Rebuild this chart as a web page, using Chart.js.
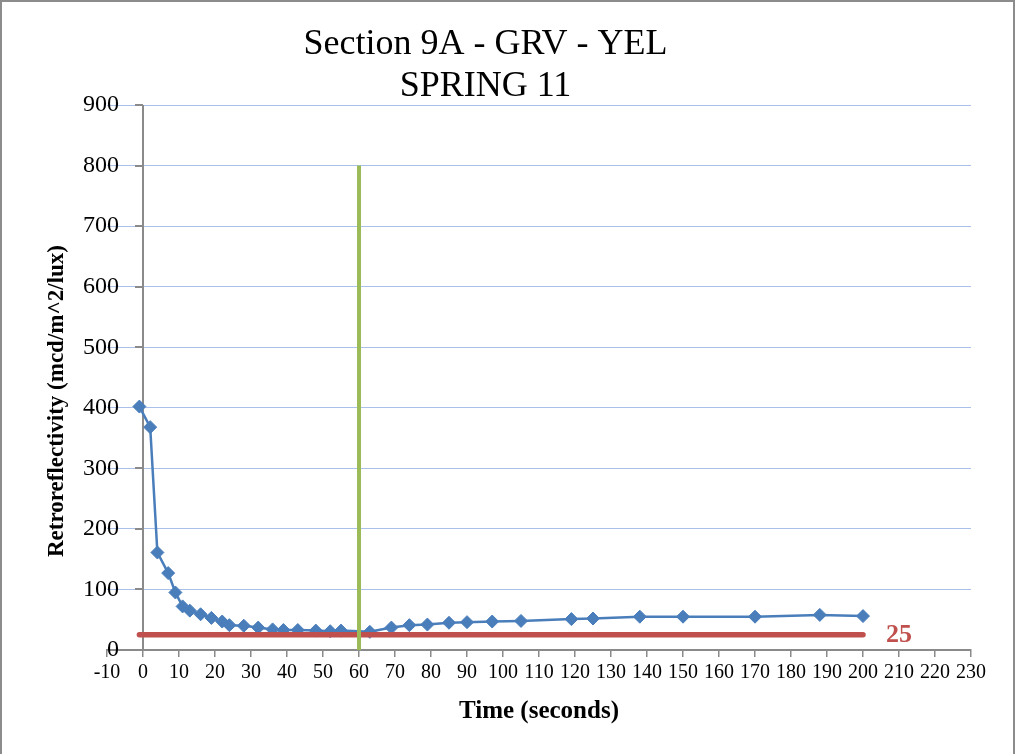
<!DOCTYPE html>
<html><head><meta charset="utf-8">
<script src="https://cdn.jsdelivr.net/npm/chart.js@4"></script>
<style>html,body{margin:0;padding:0;background:#fff;} canvas{display:block;}</style>
</head><body>
<canvas id="c" width="1015" height="754"></canvas>
<script>
const titleLines = ['Section 9A - GRV - YEL', 'SPRING 11'];
const xAxisTitle = 'Time (seconds)';
const yAxisTitle = 'Retroreflectivity (mcd/m^2/lux)';
const timeSeconds = [-1, 2, 4, 7, 9, 11, 13, 16, 19, 22, 24, 28, 32, 36, 39, 43, 48, 52, 55, 63, 69, 74, 79, 85, 90, 97, 105, 119, 125, 138, 150, 170, 188, 200];
const retroValues = [402, 368, 161, 127, 95, 72, 65, 59, 53, 47, 41, 40, 37, 34, 33, 33, 32, 31, 32, 30, 37, 41, 42, 45, 46, 47, 48, 51, 52, 55, 55, 55, 58, 56];
const thresholdX = [-1, 200];
const thresholdY = [25, 25];
const thresholdLabel = '25';
const thresholdLabelX = 210;
const markerX = [60, 60];
const markerY = [0, 800];
const xMin = -10, xMax = 230, xStep = 10;
const yMin = 0, yMax = 900, yStep = 100;

const FONT = "'Liberation Serif', 'Times New Roman', serif";
const toPts = (xs, ys) => xs.map((v, i) => ({x: v, y: ys[i]}));

const decor = {
  id: 'decor',
  beforeDraw(chart) {
    const {ctx, width, height} = chart;
    ctx.save();
    ctx.fillStyle = '#fff';
    ctx.fillRect(0, 0, width, height);
    ctx.strokeStyle = '#8c8c8c';
    ctx.lineWidth = 2;
    ctx.beginPath();
    ctx.moveTo(1, height); ctx.lineTo(1, 1); ctx.lineTo(width - 1, 1); ctx.lineTo(width - 1, height);
    ctx.stroke();
    ctx.restore();
  },
  beforeDatasetsDraw(chart) {
    const {ctx, scales: {x, y}} = chart;
    const x0 = Math.round(x.getPixelForValue(0));
    ctx.save();
    ctx.strokeStyle = '#8a8a8a';
    ctx.lineWidth = 2;
    ctx.beginPath();
    ctx.moveTo(x0, y.getPixelForValue(yMax));
    ctx.lineTo(x0, y.getPixelForValue(yMin));
    y.ticks.forEach(t => {
      const py = Math.round(y.getPixelForValue(t.value));
      ctx.moveTo(x0 - 8, py); ctx.lineTo(x0, py);
    });
    ctx.stroke();
    ctx.restore();
  },
  afterDatasetsDraw(chart) {
    const {ctx, scales: {x, y}} = chart;
    ctx.save();
    ctx.fillStyle = '#c0504d';
    ctx.font = "bold 26px " + FONT;
    ctx.textAlign = 'center';
    ctx.textBaseline = 'middle';
    ctx.fillText(thresholdLabel, x.getPixelForValue(thresholdLabelX), y.getPixelForValue(thresholdY[0]));
    ctx.restore();

    ctx.save();
    ctx.fillStyle = '#000';
    ctx.font = "bold 23px " + FONT;
    ctx.textAlign = 'center';
    ctx.textBaseline = 'middle';
    ctx.translate(57, 401);
    ctx.rotate(-Math.PI / 2);
    ctx.fillText(yAxisTitle, 0, 0);
    ctx.restore();
  }
};

new Chart(document.getElementById('c'), {
  type: 'scatter',
  data: {
    datasets: [
      {
        label: 'Marker',
        data: toPts(markerX, markerY),
        showLine: true,
        borderColor: '#9bbb59',
        borderWidth: 4,
        pointRadius: 0,
        borderCapStyle: 'butt'
      },
      {
        label: 'Threshold',
        data: toPts(thresholdX, thresholdY),
        showLine: true,
        borderColor: '#c0504d',
        borderWidth: 5.5,
        pointRadius: 0,
        borderCapStyle: 'round'
      },
      {
        label: 'Retroreflectivity',
        data: toPts(timeSeconds, retroValues),
        showLine: true,
        borderColor: '#4a7ebb',
        backgroundColor: '#4a7ebb',
        borderWidth: 2.5,
        pointStyle: 'rectRot',
        pointRadius: 6.5,
        pointBorderWidth: 1,
        pointBorderColor: '#4a7ebb',
        pointBackgroundColor: '#4a7ebb'
      }
    ]
  },
  options: {
    responsive: false,
    animation: false,
    layout: {padding: {top: 0, left: 0, right: 44, bottom: 0}},
    plugins: {
      legend: {display: false},
      tooltip: {enabled: false},
      title: {
        display: true,
        text: titleLines,
        color: '#000',
        font: {family: FONT, size: 36, weight: 'normal', lineHeight: 42 / 36},
        padding: {top: 24, bottom: -3}
      }
    },
    scales: {
      x: {
        type: 'linear',
        min: xMin, max: xMax,
        afterFit: s => { s.height = 104; },
        ticks: {
          stepSize: xStep, autoSkip: false, maxRotation: 0,
          color: '#000', padding: 4,
          font: {family: FONT, size: 20}
        },
        grid: {display: true, drawOnChartArea: false, drawTicks: true, tickLength: 7, color: '#8a8a8a', lineWidth: 1.5},
        border: {display: true, color: '#8a8a8a', width: 2},
        title: {
          display: true, text: xAxisTitle, color: '#000',
          font: {family: FONT, size: 25, weight: 'bold', lineHeight: 1.2},
          padding: {top: 0, bottom: 27}
        }
      },
      y: {
        type: 'linear',
        min: yMin, max: yMax,
        afterFit: s => { s.width = 107; },
        ticks: {
          stepSize: yStep, color: '#000',
          mirror: true, crossAlign: 'far', padding: -24,
          font: {family: FONT, size: 24}
        },
        grid: {display: true, drawOnChartArea: true, drawTicks: false, color: '#a8c0ea', lineWidth: 1},
        border: {display: false}
      }
    }
  },
  plugins: [decor]
});
</script>
</body></html>
